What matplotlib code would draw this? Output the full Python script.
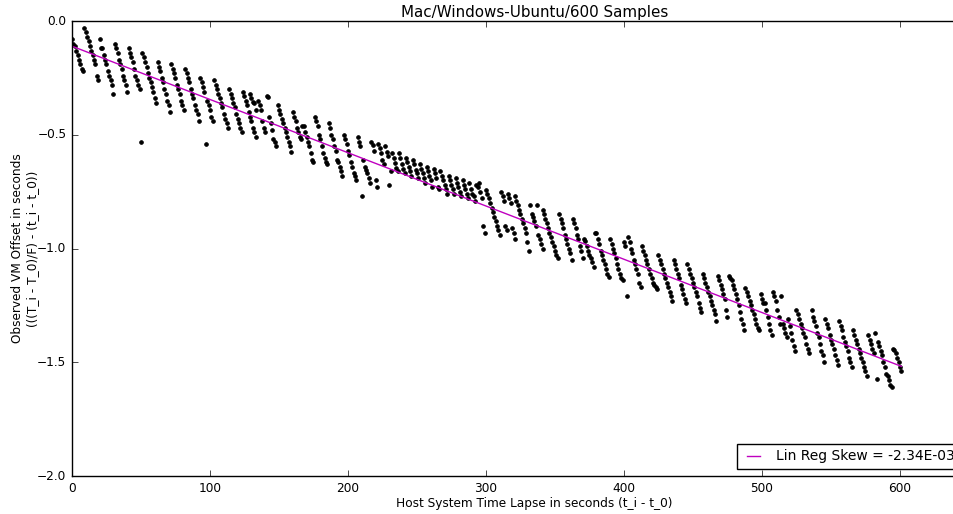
import numpy as np
import matplotlib
matplotlib.use('Agg')
import matplotlib.pyplot as plt

plt.style.use('classic')

# start second of each sawtooth run, and the offsets for each run
tooth_start = [0, 9, 20, 31, 41, 51, 62, 72, 82, 93, 103, 114, 124, 129, 135, 141,
               149, 160, 167, 176, 186, 197, 207, 217, 222, 227, 232, 237, 242, 247,
               252, 257, 262, 267, 273, 278, 283, 288, 293, 300, 311, 316, 321, 332,
               337, 341, 353, 363, 371, 379, 390, 400, 403, 413, 425, 436, 446, 457,
               468, 476, 488, 499, 508, 514, 519, 525, 536, 546, 556, 566, 577, 582,
               590, 595]

tooth_offset = [
    [-0.08, -0.10, -0.11, -0.13, -0.15, -0.17, -0.19, -0.21, -0.22],
    [-0.03, -0.05, -0.07, -0.09, -0.11, -0.13, -0.15, -0.17, -0.19, -0.24, -0.26],
    [-0.08, -0.12, -0.12, -0.15, -0.17, -0.19, -0.22, -0.24, -0.26, -0.28, -0.32],
    [-0.10, -0.12, -0.14, -0.17, -0.19, -0.21, -0.24, -0.26, -0.28, -0.31],
    [-0.12, -0.14, -0.16, -0.18, -0.21, -0.24, -0.26, -0.28, -0.30, -0.53],
    [-0.14, -0.16, -0.18, -0.20, -0.23, -0.25, -0.27, -0.29, -0.31, -0.34, -0.36],
    [-0.18, -0.20, -0.22, -0.25, -0.27, -0.30, -0.32, -0.35, -0.37, -0.40],
    [-0.19, -0.21, -0.23, -0.25, -0.28, -0.30, -0.32, -0.35, -0.37, -0.39],
    [-0.21, -0.23, -0.25, -0.27, -0.30, -0.32, -0.34, -0.37, -0.39, -0.41, -0.44],
    [-0.25, -0.27, -0.29, -0.31, -0.54, -0.35, -0.37, -0.39, -0.42, -0.44],
    [-0.26, -0.28, -0.30, -0.32, -0.34, -0.36, -0.38, -0.41, -0.43, -0.45, -0.47],
    [-0.30, -0.32, -0.34, -0.36, -0.38, -0.41, -0.43, -0.45, -0.47, -0.49],
    [-0.31, -0.33, -0.35, -0.37, -0.40, -0.42, -0.44, -0.47, -0.49, -0.51],
    [-0.32, -0.34, -0.355, -0.36, -0.39],
    [-0.35, -0.37, -0.39, -0.44, -0.47, -0.49],
    [-0.33, -0.335, -0.42, -0.45, -0.48, -0.52, -0.53, -0.55],
    [-0.37, -0.39, -0.41, -0.43, -0.45, -0.47, -0.49, -0.51, -0.53, -0.55, -0.575],
    [-0.40, -0.42, -0.44, -0.47, -0.49, -0.51, -0.52],
    [-0.46, -0.46, -0.49, -0.51, -0.53, -0.55, -0.58, -0.61, -0.62],
    [-0.42, -0.44, -0.46, -0.50, -0.52, -0.55, -0.58, -0.60, -0.62, -0.63],
    [-0.45, -0.47, -0.50, -0.52, -0.55, -0.57, -0.61, -0.62, -0.64, -0.66, -0.68],
    [-0.50, -0.52, -0.54, -0.57, -0.59, -0.62, -0.64, -0.67, -0.68, -0.70],
    [-0.51, -0.53, -0.55, -0.77, -0.61, -0.64, -0.655, -0.67, -0.69, -0.71],
    [-0.53, -0.545, -0.57, -0.70, -0.73],
    [-0.54, -0.56, -0.58, -0.61, -0.63],
    [-0.55, -0.575, -0.595, -0.72, -0.66],
    [-0.58, -0.60, -0.625, -0.645, -0.66],
    [-0.58, -0.60, -0.63, -0.65, -0.67],
    [-0.60, -0.62, -0.64, -0.66, -0.68],
    [-0.61, -0.63, -0.655, -0.67, -0.69],
    [-0.63, -0.65, -0.67, -0.69, -0.71],
    [-0.64, -0.66, -0.68, -0.70, -0.73],
    [-0.65, -0.67, -0.69, -0.73, -0.74],
    [-0.66, -0.68, -0.70, -0.72, -0.74, -0.76],
    [-0.68, -0.70, -0.72, -0.74, -0.76],
    [-0.69, -0.71, -0.73, -0.75, -0.77],
    [-0.70, -0.72, -0.74, -0.76, -0.78],
    [-0.71, -0.74, -0.76, -0.77, -0.79],
    [-0.72, -0.73, -0.71, -0.75, -0.78, -0.90, -0.93],
    [-0.745, -0.76, -0.78, -0.80, -0.82, -0.84, -0.86, -0.88, -0.90, -0.92, -0.94],
    [-0.75, -0.77, -0.79, -0.90, -0.92],
    [-0.76, -0.78, -0.80, -0.91, -0.93, -0.96],
    [-0.77, -0.79, -0.81, -0.83, -0.85, -0.87, -0.89, -0.91, -0.93, -0.97, -1.01],
    [-0.81, -0.85, -0.86, -0.88, -0.90],
    [-0.81, -0.94, -0.96, -0.98, -1.00],
    [-0.83, -0.85, -0.87, -0.89, -0.91, -0.93, -0.95, -0.97, -0.99, -1.01, -1.03, -1.04],
    [-0.85, -0.87, -0.89, -0.91, -0.94, -0.96, -0.98, -1.00, -1.02, -1.05],
    [-0.87, -0.89, -0.91, -0.94, -0.96, -0.99, -1.01, -1.04],
    [-0.96, -0.965, -0.99, -1.01, -1.03, -1.04, -1.06, -1.08],
    [-0.93, -0.93, -0.96, -0.98, -1.01, -1.03, -1.05, -1.07, -1.09, -1.11, -1.125],
    [-0.96, -0.98, -1.00, -1.02, -1.04, -1.07, -1.09, -1.11, -1.13, -1.14],
    [-0.97, -0.99, -1.21],
    [-0.95, -0.97, -1.00, -1.02, -1.05, -1.07, -1.09, -1.11, -1.15, -1.17],
    [-0.99, -1.01, -1.03, -1.05, -1.07, -1.09, -1.11, -1.13, -1.15, -1.16, -1.17, -1.18],
    [-1.03, -1.05, -1.07, -1.09, -1.11, -1.13, -1.15, -1.17, -1.19, -1.21, -1.23],
    [-1.05, -1.07, -1.09, -1.11, -1.13, -1.16, -1.18, -1.20, -1.22, -1.24],
    [-1.07, -1.09, -1.11, -1.13, -1.15, -1.17, -1.19, -1.21, -1.24, -1.26, -1.28],
    [-1.11, -1.13, -1.15, -1.17, -1.19, -1.21, -1.23, -1.25, -1.27, -1.29, -1.32],
    [-1.12, -1.14, -1.16, -1.18, -1.20, -1.22, -1.27, -1.30],
    [-1.12, -1.13, -1.14, -1.16, -1.18, -1.20, -1.22, -1.25, -1.28, -1.31, -1.33, -1.36],
    [-1.175, -1.19, -1.21, -1.23, -1.25, -1.27, -1.29, -1.31, -1.33, -1.35, -1.36],
    [-1.20, -1.22, -1.24, -1.24, -1.27, -1.30, -1.33, -1.36, -1.38],
    [-1.19, -1.21, -1.23, -1.27, -1.30, -1.33],
    [-1.21, -1.33, -1.35, -1.37, -1.39],
    [-1.31, -1.34, -1.37, -1.40, -1.43, -1.45],
    [-1.27, -1.29, -1.31, -1.33, -1.35, -1.37, -1.39, -1.42, -1.44, -1.46],
    [-1.27, -1.30, -1.32, -1.34, -1.37, -1.39, -1.42, -1.45, -1.47, -1.50],
    [-1.31, -1.33, -1.35, -1.38, -1.40, -1.42, -1.44, -1.47, -1.49, -1.51],
    [-1.32, -1.34, -1.36, -1.39, -1.41, -1.43, -1.45, -1.48, -1.50, -1.52],
    [-1.36, -1.38, -1.40, -1.42, -1.44, -1.46, -1.48, -1.50, -1.52, -1.54, -1.56],
    [-1.38, -1.40, -1.42, -1.44, -1.46],
    [-1.37, -1.575, -1.41, -1.43, -1.45, -1.47, -1.50, -1.52],
    [-1.55, -1.56, -1.58, -1.60, -1.61],
    [-1.44, -1.445, -1.46, -1.48, -1.50, -1.52, -1.54],
]

skew_label = 'Lin Reg Skew = -2.34E-03'

# one sample per second inside each run
sample_time = []
vm_offset = []
for start, vals in zip(tooth_start, tooth_offset):
    for i, v in enumerate(vals):
        sample_time.append(start + i)
        vm_offset.append(v)
sample_time = np.array(sample_time, dtype=float)
vm_offset = np.array(vm_offset)

skew, intercept = np.polyfit(sample_time, vm_offset, 1)
fit_x = np.array([sample_time.min(), sample_time.max()])

fig = plt.figure(figsize=(9.54, 5.14), dpi=100, facecolor='white')
ax_right = 72 + 670 * 1.38
ax = fig.add_axes([72 / 954., 38 / 514., (ax_right - 72) / 954., 455 / 514.])

ax.plot(sample_time, vm_offset, 'k.', markersize=5.5)
ax.plot(fit_x, intercept + skew * fit_x, color='m', linewidth=1, label=skew_label)

ax.set_xlim(0, 670)
ax.set_ylim(-2.0, 0.0)
ax.set_xticks([0, 100, 200, 300, 400, 500, 600])
ax.set_yticks([-2.0, -1.5, -1.0, -0.5, 0.0])
ax.tick_params(labelsize=8.7)

ax.set_title('Mac/Windows-Ubuntu/600 Samples', fontsize=10.9, pad=3)
ax.set_xlabel('Host System Time Lapse in seconds (t_i - t_0)', fontsize=8.7, labelpad=2)
ax.set_ylabel('Observed VM Offset in seconds\n(((T_i - T_0)/F) - (t_i - t_0))', fontsize=8.7,
              labelpad=-1)

# legend box sits so its right edge runs just past the picture edge
leg_right = (960 - 72) / (ax_right - 72)
ax.legend(loc='lower right', bbox_to_anchor=(leg_right, 7 / 455.), borderaxespad=0,
          fontsize=10, numpoints=2, handlelength=1.6)

fig.savefig('out.png', dpi=100, facecolor='white')
